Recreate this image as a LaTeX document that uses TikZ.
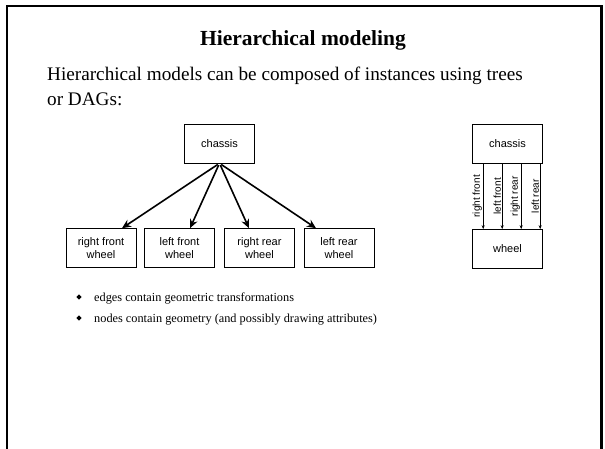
\documentclass[tikz,border=0pt]{standalone}
\usepackage{fontspec}
\setmainfont{Liberation Serif}
\setsansfont{Liberation Sans}
\usetikzlibrary{arrows.meta,positioning,shapes.geometric}
\tikzset{
  part/.style={
    shape = rectangle,
    draw,
    line width = 0.6pt,
    minimum width = 70pt,
    minimum height = 39pt,
    inner sep = 0pt,
    align = center,
    font = \sffamily\fontsize{11}{13}\selectfont
  },
  xform/.style={
    -{Stealth[length=9pt,width=8pt]},
    line width = 1.6pt,
    shorten <= 2pt
  },
  inst/.style={
    -{Stealth[length=4pt,width=3pt]},
    line width = 0.6pt
  },
  instlabel/.style={
    rotate = 90,
    anchor = south,
    inner sep = 1pt,
    font = \sffamily\fontsize{10}{12}\selectfont
  },
  blt/.style={
    shape = diamond,
    fill,
    inner sep = 0pt,
    minimum size = 5.5pt
  },
  slidetext/.style={
    anchor = base west,
    inner sep = 0pt
  }
}
\begin{document}
\begin{tikzpicture}[x=1pt, y=-1pt]
    \useasboundingbox (0,0) rectangle (605,449);
    \def\dx{10.5}
    \def\ddx{19}
    % slide frame, open at the bottom
    \draw[line width=2.4pt] (7,449) -- (7,6) -- (601.5,6) -- (601.5,449);
    \node[inner sep=0pt, font=\bfseries\fontsize{21.5}{24}\selectfont] (title) at (303,40) {Hierarchical modeling};
    \node[slidetext, font=\fontsize{19.2}{23}\selectfont] (intro) at (47,81)
        {Hierarchical models can be composed of instances using trees};
    \node[slidetext, font=\fontsize{19.2}{23}\selectfont] (intro2) at (47,106) {or DAGs:};
    % tree
    \node[part] (chassis) at (219.5,143.5) {chassis};
    \node[part] (rfw) at (101,248) {right front\\wheel};
    \node[part] (lfw) at (179.5,248) {left front\\wheel};
    \node[part] (rrw) at (259.5,248) {right rear\\wheel};
    \node[part] (lrw) at (339,248) {left rear\\wheel};
    \draw[xform] (chassis.south) -- ([xshift=2*\dx]rfw.north);
    \draw[xform] (chassis.south) -- ([xshift=\dx]lfw.north);
    \draw[xform] (chassis.south) -- ([xshift=-\dx]rrw.north);
    \draw[xform] (chassis.south) -- ([xshift=-2*\dx-2]lrw.north);
    % DAG
    \node[part] (dchassis) at (507.5,143.5) {chassis};
    \node[part] (wheel) at (507.5,249) {wheel};
    \draw[inst] ([xshift=11pt]dchassis.south west) -- node[instlabel] {right front} ([xshift=11pt]wheel.north west);
    \draw[inst] ([xshift=11pt+\ddx]dchassis.south west) -- node[instlabel] {left front} ([xshift=11pt+\ddx]wheel.north west);
    \draw[inst] ([xshift=11pt+2*\ddx]dchassis.south west) -- node[instlabel] {right rear} ([xshift=11pt+2*\ddx]wheel.north west);
    \draw[inst] ([xshift=11pt+3*\ddx]dchassis.south west) -- node[instlabel] {left rear} ([xshift=11pt+3*\ddx]wheel.north west);
    % bullets
    \node[blt] (b1) at (79,297) {};
    \node[blt] (b2) at (79,318) {};
    \node[slidetext, font=\fontsize{12.3}{15}\selectfont] (t1) at ([xshift=15pt,yshift=-4pt]b1) {edges contain geometric transformations};
    \node[slidetext, font=\fontsize{12.3}{15}\selectfont] (t2) at ([xshift=15pt,yshift=-4pt]b2) {nodes contain geometry (and possibly drawing attributes)};
\end{tikzpicture}
\end{document}
